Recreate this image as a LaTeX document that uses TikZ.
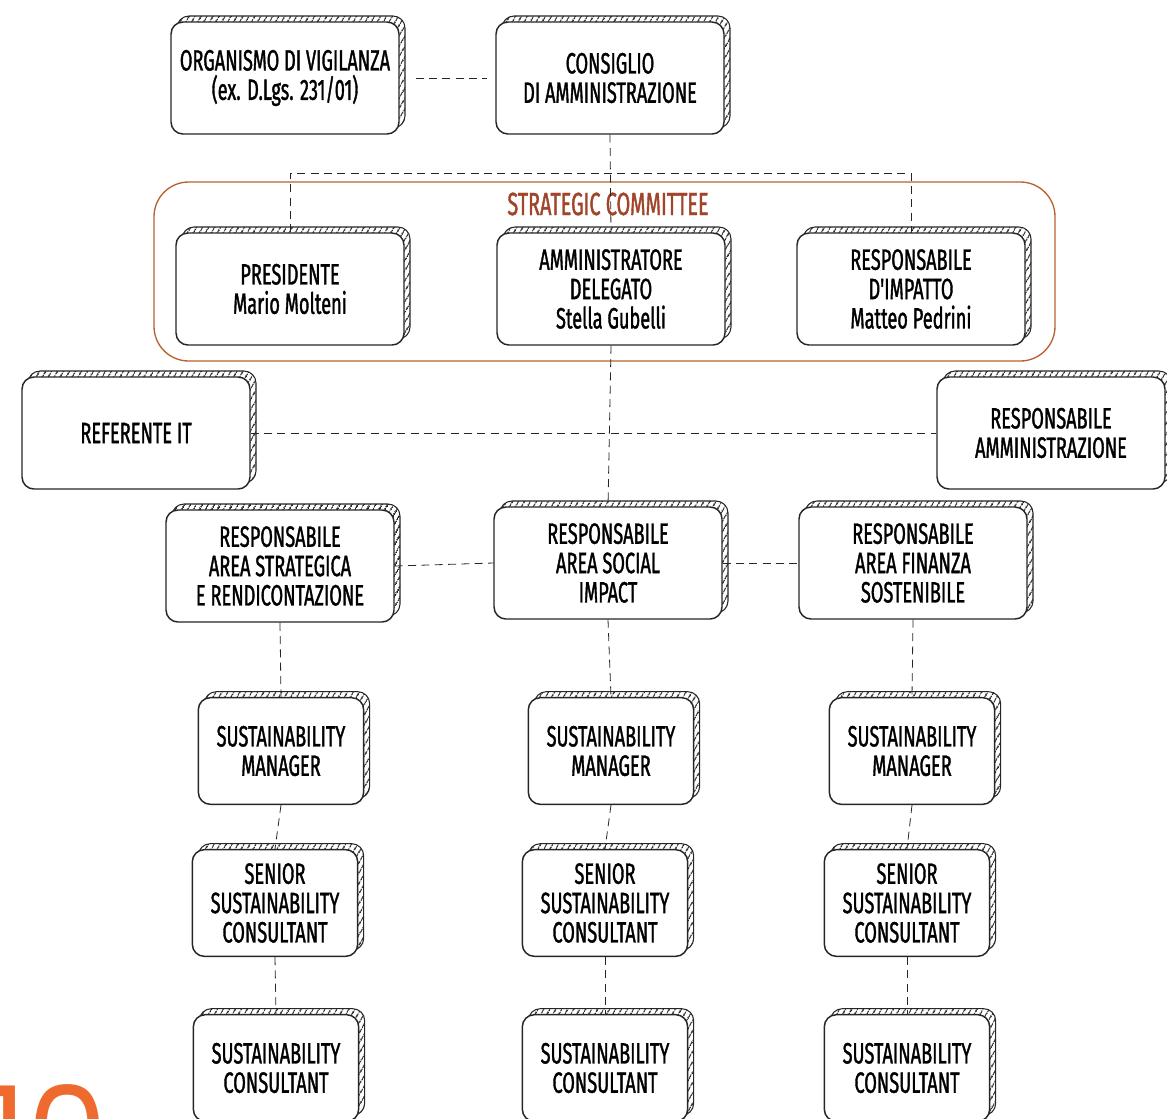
\documentclass[tikz,border=0pt]{standalone}
\usepackage{fontspec}
\newfontfamily\hand[FakeStretch=0.62, FakeBold=1.2]{Fira Sans}
\newfontfamily\pagefont{Poppins}
\usetikzlibrary{patterns.meta,shadows}
\definecolor{rust}{HTML}{B9602F}
\definecolor{rustdark}{HTML}{A0442A}
\definecolor{pageorange}{HTML}{EE6A2F}
\tikzset{
  sketch/.style={draw=black!85, line width=1.1pt, rounded corners=9pt, fill=white, align=center,
    font=\hand\fontsize{22}{22}\selectfont, inner sep=2pt,
    general shadow={shadow xshift=4.5pt, shadow yshift=4.5pt, draw=black!85, line width=0.8pt,
      pattern={Lines[angle=60, distance=4pt, line width=1pt]}, pattern color=black!85}},
  bigbox/.style={sketch, minimum width=171pt, minimum height=84pt},
  smallbox/.style={sketch, minimum width=124pt, minimum height=80pt},
  link/.style={black!85, line width=0.6pt, dash pattern=on 6pt off 4pt},
}

\begin{document}
\begin{tikzpicture}[x=0.75pt, y=-0.75pt]
			%%%%% START %%%%%
			\useasboundingbox (0,0) rectangle (1167,1118);
			\clip (0,0) rectangle (1167,1118);
			
			% strategic committee frame
			\draw[rust, line width=1pt, rounded corners=26pt] (154,182) rectangle (1055,361);
			\node[text=rustdark, font=\hand\fontsize{24}{24}\selectfont] (strat) at (608,204) {STRATEGIC COMMITTEE};
			
			% top
			\node[bigbox] (ovig) at (285,78) {ORGANISMO DI VIGILANZA\\(ex. D.Lgs. 231/01)};
			\node[bigbox] (cda) at (610,78) {CONSIGLIO\\DI AMMINISTRAZIONE};
			
			% committee
			\node[bigbox] (pres) at (290,289) {PRESIDENTE\\Mario Molteni};
			\node[bigbox] (ad) at (611,289) {AMMINISTRATORE\\DELEGATO\\Stella Gubelli};
			\node[bigbox] (rimp) at (911,289) {RESPONSABILE\\D'IMPATTO\\Matteo Pedrini};
			
			% staff
			\node[bigbox] (refit) at (136,433) {REFERENTE IT};
			\node[bigbox] (ramm) at (1051,433) {RESPONSABILE\\AMMINISTRAZIONE};
			
			% areas
			\node[bigbox] (rstrat) at (280,566) {RESPONSABILE\\AREA STRATEGICA\\E RENDICONTAZIONE};
			\node[bigbox] (rsoc) at (608,563) {RESPONSABILE\\AREA SOCIAL\\IMPACT};
			\node[bigbox] (rfin) at (913,563) {RESPONSABILE\\AREA FINANZA\\SOSTENIBILE};
			
			% teams
			\node[smallbox] (sm1) at (281,751) {SUSTAINABILITY\\MANAGER};
			\node[smallbox] (sm2) at (611,751) {SUSTAINABILITY\\MANAGER};
			\node[smallbox] (sm3) at (912,751) {SUSTAINABILITY\\MANAGER};
			
			\node[smallbox] (ssc1) at (275,903) {SENIOR\\SUSTAINABILITY\\CONSULTANT};
			\node[smallbox] (ssc2) at (605,903) {SENIOR\\SUSTAINABILITY\\CONSULTANT};
			\node[smallbox] (ssc3) at (907,903) {SENIOR\\SUSTAINABILITY\\CONSULTANT};
			
			\node[smallbox] (sc1) at (276,1068) {SUSTAINABILITY\\CONSULTANT};
			\node[smallbox] (sc2) at (605,1068) {SUSTAINABILITY\\CONSULTANT};
			\node[smallbox] (sc3) at (907,1068) {SUSTAINABILITY\\CONSULTANT};
			
			% links
			\coordinate (bar) at (610,173);
			\draw[link, shorten <=12pt, shorten >=6pt] (ovig.east) -- (cda.west);
			\draw[link] (cda.south) -- (ad.north);
			\draw[link] (pres.north) -- (pres.north |- bar) -- (rimp.north |- bar) -- (rimp.north);
			\draw[link] (ad.south) -- (rsoc.north);
			\draw[link] (refit.east) -- (ramm.west);
			\draw[link] (rstrat.east) -- (rsoc.west);
			\draw[link] (rsoc.east) -- (rfin.west);
			\draw[link] (rstrat.south) -- (sm1.north);
			\draw[link] (rsoc.south) -- (sm2.north);
			\draw[link] (rfin.south) -- (sm3.north);
			\draw[link] (sm1.south) -- (ssc1.north);
			\draw[link] (sm2.south) -- (ssc2.north);
			\draw[link] (sm3.south) -- (ssc3.north);
			\draw[link] (ssc1.south) -- (sc1.north);
			\draw[link] (ssc2.south) -- (sc2.north);
			\draw[link] (ssc3.south) -- (sc3.north);
			
			% page number
			\node[anchor=base west, inner sep=0pt, text=pageorange, font=\pagefont\fontsize{96}{96}\selectfont] (pagenum) at (-14,1178) {10};
			
			%%%%% END %%%%%
\end{tikzpicture}
\end{document}
